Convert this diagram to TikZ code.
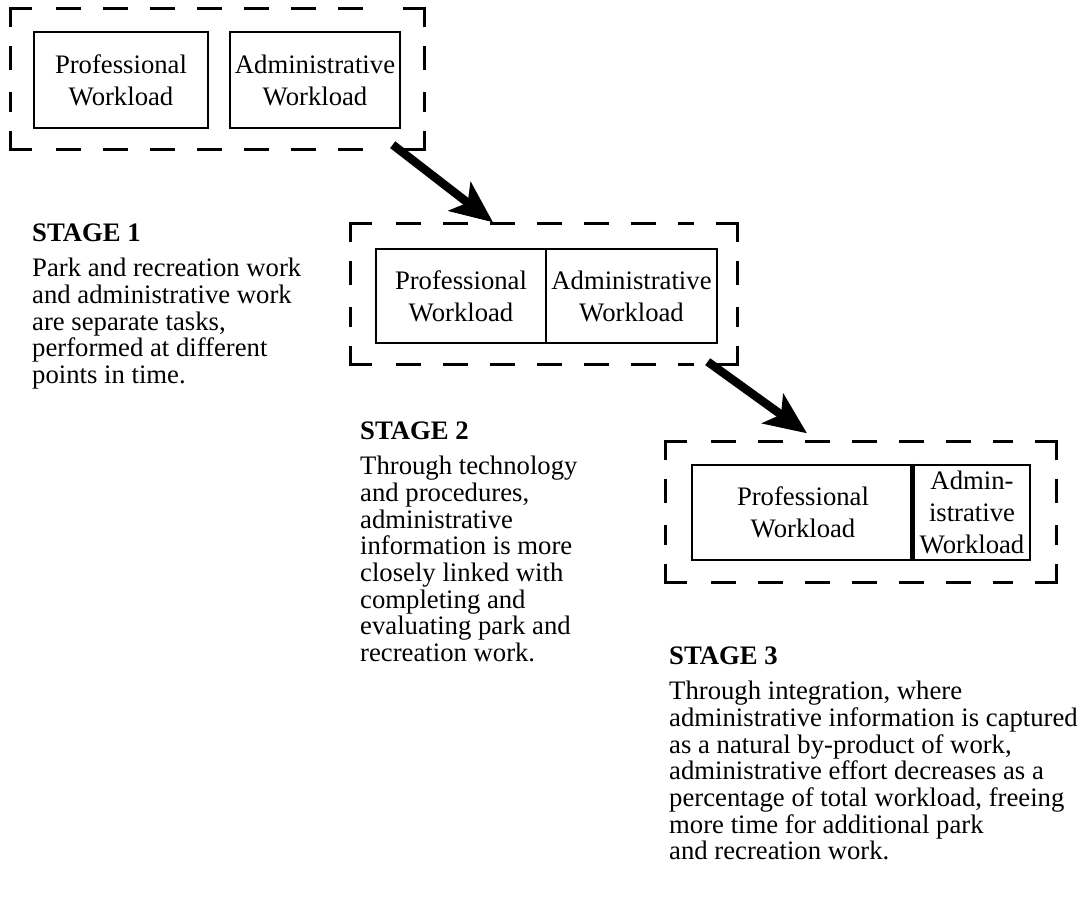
\documentclass[tikz,border=0pt]{standalone}
\usepackage{fontspec}
\setmainfont{Liberation Serif}
\usetikzlibrary{arrows.meta}
\tikzset{
  frame/.style={draw=none, inner sep=0pt},
  frameline/.style={line width=3.4pt, black},
  wbox/.style={draw, line width=2.8pt, inner sep=0pt, align=center,
    font=\fontsize{26.7pt}{32pt}\selectfont},
  heading/.style={anchor=base west, inner sep=0pt,
    font=\fontsize{26.7pt}{26.7pt}\selectfont\bfseries},
  body/.style={anchor=north west, inner sep=0pt, align=left,
    font=\fontsize{26.7pt}{26.7pt}\selectfont},
  bigarrow/.style={line width=8.5pt, -{Stealth[length=42pt,width=36pt,inset=10pt]}},
}
\newcommand\dashframe[1]{%
  \draw[frameline] ([yshift=-19pt]#1.north west) -- (#1.north west) -- ([xshift=22pt]#1.north west);
  \draw[frameline] ([yshift=-19pt]#1.north east) -- (#1.north east) -- ([xshift=-22pt]#1.north east);
  \draw[frameline] ([yshift=19pt]#1.south west) -- (#1.south west) -- ([xshift=22pt]#1.south west);
  \draw[frameline] ([yshift=19pt]#1.south east) -- (#1.south east) -- ([xshift=-22pt]#1.south east);
  \draw[frameline, dash pattern=on 25pt off 22pt] ([xshift=46pt]#1.north west) -- ([xshift=-44pt]#1.north east);
  \draw[frameline, dash pattern=on 25pt off 22pt] ([xshift=46pt]#1.south west) -- ([xshift=-44pt]#1.south east);
  \draw[frameline, dash pattern=on 24pt off 22pt] ([yshift=-38pt]#1.north west) -- ([yshift=38pt]#1.south west);
  \draw[frameline, dash pattern=on 24pt off 22pt] ([yshift=-38pt]#1.north east) -- ([yshift=38pt]#1.south east);
}
\begin{document}
\begin{tikzpicture}[x=1pt,y=-1pt]
\useasboundingbox[fill=white] (0,0) rectangle (1089,899);

% ---------- Stage 1 ----------
\node[frame, minimum width=414pt, minimum height=141pt] (s1) at (217.5,79) {};
\dashframe{s1}
\node[wbox, minimum width=174pt, minimum height=96pt] (p1) at (121,80) {Professional\\Workload};
\node[wbox, minimum width=170pt, minimum height=96pt] (d1) at (315,80) {Administrative\\Workload};

\node[heading] (h1) at (32,241) {STAGE 1};
\node[body] (t1) at (32,258) {Park and recreation work\\and administrative work\\are separate tasks,\\performed at different\\points in time.};

% ---------- Stage 2 ----------
\node[frame, minimum width=387pt, minimum height=141pt] (s2) at (544,294) {};
\dashframe{s2}
\node[wbox, minimum width=170pt, minimum height=94pt] (p2) at (461,296) {Professional\\Workload};
\node[wbox, minimum width=171pt, minimum height=94pt] (d2) at (631.5,296) {Administrative\\Workload};

\node[heading] (h2) at (360,439) {STAGE 2};
\node[body] (t2) at (360,456) {Through technology\\and procedures,\\administrative\\information is more\\closely linked with\\completing and\\evaluating park and\\recreation work.};

% ---------- Stage 3 ----------
\node[frame, minimum width=391pt, minimum height=141pt] (s3) at (861,512) {};
\dashframe{s3}
\node[wbox, minimum width=222pt, minimum height=95pt] (p3) at (803,512.5) {Professional\\Workload};
\node[wbox, minimum width=116pt, minimum height=95pt] (d3) at (972,512.5) {Admin-\\istrative\\Workload};
\draw[line width=4.5pt] (d3.north west) -- (d3.south west);

\node[heading] (h3) at (669,664) {STAGE 3};
\node[body] (t3) at (669,681) {Through integration, where\\administrative information is captured\\as a natural by-product of work,\\administrative effort decreases as a\\percentage of total workload, freeing\\more time for additional park\\and recreation work.};

% ---------- Arrows ----------
\draw[bigarrow] ([xshift=-32pt,yshift=5pt]s1.south east) -- ([xshift=-51pt,yshift=1pt]s2.north);
\draw[bigarrow] ([xshift=-30pt,yshift=3pt]s2.south east) -- ([xshift=-54pt,yshift=8pt]s3.north);
\end{tikzpicture}
\end{document}
